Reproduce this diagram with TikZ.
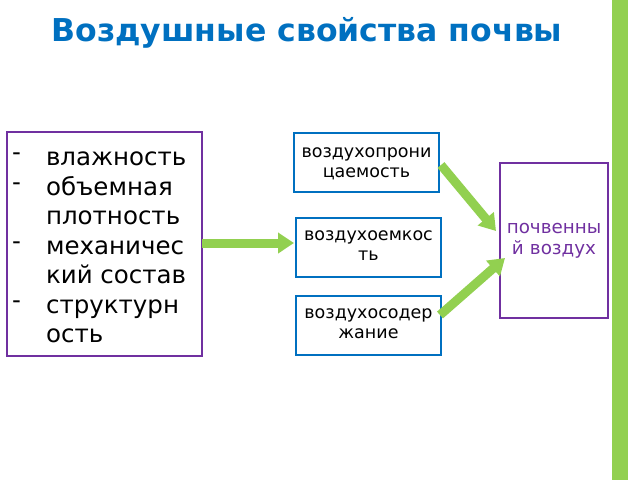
\documentclass[tikz,border=0pt]{standalone}
\usepackage{fontspec}
\setmainfont{DejaVu Sans}
\usetikzlibrary{arrows.meta}
\definecolor{gr}{HTML}{92D050}
\definecolor{bl}{HTML}{0070C0}
\definecolor{pu}{HTML}{7030A0}
\begin{document}
\begin{tikzpicture}[x=1pt,y=-1pt,
  bbox/.style={draw=bl,line width=1.3pt},
  pbox/.style={draw=pu,line width=1.3pt},
  btxt/.style={font=\fontsize{17.5}{20}\selectfont,align=center,text width=150pt},
  garrow/.style={draw=gr,line width=9pt,-{Triangle[length=16pt,width=20pt]}}]
\useasboundingbox (0,0) rectangle (640,480);
\fill[gr] (612,0) rectangle (628,480);
\node[font=\fontsize{31.5}{34}\bfseries\selectfont,text=bl] (title) at (307,33) {Воздушные свойства почвы};
\draw[pbox] (7,132) rectangle (202,356);
\coordinate (L) at (202,243);
\node[anchor=north west,inner sep=0pt,font=\fontsize{24.5}{29.5}\selectfont,align=left] (list) at (12,145) {%
\begin{tabular}{@{}l@{\hspace{25pt}}l@{}}
\raisebox{5pt}{-} & влажность\\
\raisebox{5pt}{-} & объемная\\
  & плотность\\
\raisebox{5pt}{-} & механичес\\
  & кий состав\\
\raisebox{5pt}{-} & структурн\\
  & ость
\end{tabular}};
\draw[bbox] (294,133) rectangle (439,192);
\node[btxt] (b1) at (366.5,164) {воздухопрони\\цаемость};
\draw[bbox] (296,218) rectangle (441,277);
\node[btxt] (b2) at (368.5,246) {воздухоемкос\\ть};
\draw[bbox] (296,296) rectangle (441,355);
\node[btxt] (b3) at (368.5,324) {воздухосодер\\жание};
\draw[pbox] (500,163) rectangle (608,318);
\node[btxt,text=pu,font=\fontsize{18.3}{21}\selectfont] (r) at (554,241) {почвенны\\й воздух};
\coordinate (b2w) at (294,243);
\coordinate (t1) at (441,165); \coordinate (t2) at (496,231);
\coordinate (u1) at (440,315); \coordinate (u2) at (505,258);
\draw[garrow] (L) -- (b2w);
\draw[garrow] (t1) -- (t2);
\draw[garrow] (u1) -- (u2);
\end{tikzpicture}
\end{document}
